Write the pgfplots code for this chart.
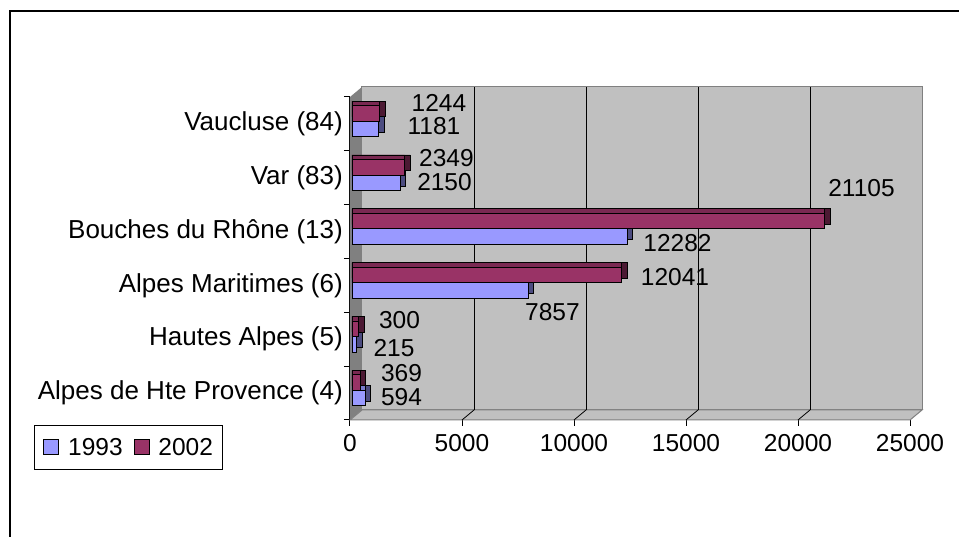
\documentclass[border=0pt]{standalone}
\usepackage{fontspec}
\setmainfont{Liberation Sans}
\usepackage{pgfplots}
\usepackage{pgfplotstable}
\pgfplotsset{compat=1.18}
\definecolor{cA}{HTML}{9999FF}
\definecolor{cAtop}{HTML}{7A7ACC}
\definecolor{cAside}{HTML}{4C4C80}
\definecolor{cB}{HTML}{993366}
\definecolor{cBtop}{HTML}{7A2952}
\definecolor{cBside}{HTML}{4C1933}
\definecolor{wall}{HTML}{C0C0C0}
\definecolor{sidewall}{HTML}{808080}
\pgfplotstableread{
cat y1993 y2002
0 594 369
1 215 300
2 7857 12041
3 12282 21105
4 2150 2349
5 1181 1244
}\datatable
\begin{document}
\begin{tikzpicture}[x=1pt,y=1pt]
\useasboundingbox (0,0) rectangle (959,537);
\fill[white] (0,0) rectangle (959,537);
\draw[line width=2pt] (10,-5) -- (10,526) -- (970,526);
\begin{axis}[
  at={(350pt,117pt)}, anchor=south west,
  scale only axis, width=560pt, height=323pt,
  xmin=0, xmax=25000, ymin=-0.5, ymax=5.5,
  axis lines*=left,
  axis line style={black, line width=1pt},
  tick align=outside,
  major tick length=6pt,
  tick style={black, line width=1pt},
  xtick={0,5000,...,25000},
  scaled x ticks=false,
  /pgf/number format/.cd, 1000 sep={}, assume math mode=true, /pgfplots/.cd,
  xticklabel style={font=\fontsize{24.5}{28}\selectfont, inner sep=0pt, yshift=-8pt},
  ytick={-0.5,0.5,...,5.5},
  yticklabels={},
  extra y ticks={0,1,2,3,4,5},
  extra y tick style={major tick length=0pt},
  extra y tick labels={Alpes de Hte Provence (4), Hautes Alpes (5), Alpes Maritimes (6), Bouches du Rhône (13), Var (83), Vaucluse (84)},
  yticklabel style={font=\fontsize{26}{30}\selectfont, inner sep=0pt, xshift=-7pt},
  clip=false,
  legend columns=2,
  legend image code/.code={\draw[#1, line width=0.8pt] (0pt,-7.5pt) rectangle (15pt,7.5pt);},
  legend style={at={(axis description cs:-0.5643,-0.1548)}, anchor=south west,
    draw=black, line width=0.8pt, font=\fontsize{24.5}{28}\selectfont,
    inner xsep=9pt, inner ysep=13pt, nodes={inner sep=0pt},
    /tikz/every odd column/.append style={column sep=9pt},
    /tikz/every even column/.append style={column sep=11pt}},
]
% walls
\fill[sidewall] (rel axis cs:0,0) -- (rel axis cs:0,1) -- ([shift={(12pt,10pt)}]rel axis cs:0,1) -- ([shift={(12pt,10pt)}]rel axis cs:0,0) -- cycle;
\filldraw[fill=wall, draw=sidewall, line width=1pt] ([shift={(12pt,10pt)}]rel axis cs:0,0) rectangle ([shift={(12pt,10pt)}]rel axis cs:1,1);
\filldraw[fill=wall, draw=sidewall, line width=1pt] (rel axis cs:0,0) -- (rel axis cs:1,0) -- ([shift={(12pt,10pt)}]rel axis cs:1,0) -- ([shift={(12pt,10pt)}]rel axis cs:0,0) -- cycle;
\pgfplotsinvokeforeach{5000,10000,15000,20000}{
  \draw[black, line width=0.8pt] ([shift={(12pt,10pt)}]axis cs:#1,-0.5) -- ([shift={(12pt,10pt)}]axis cs:#1,5.5);
  \draw[black, line width=0.8pt] (axis cs:#1,-0.5) -- ([shift={(12pt,10pt)}]axis cs:#1,-0.5);
}
% 1993 bars
\addplot[xbar, xshift=2pt, bar width=15.5pt, bar shift=-0.5pt, fill=cAside, draw=black, line width=0.8pt, forget plot] table[x expr=\thisrow{y1993}+245, y=cat] {\datatable};
\addplot[xbar, xshift=2pt, bar width=15.5pt, bar shift=-0.5pt, fill=cAtop, draw=black, line width=0.8pt, forget plot] table[x=y1993, y=cat] {\datatable};
\addplot[xbar, xshift=2pt, bar width=15.5pt, bar shift=-5pt, fill=cA, draw=black, line width=0.8pt] table[x=y1993, y=cat] {\datatable};
% 2002 bars
\addplot[xbar, xshift=2pt, bar width=15.5pt, bar shift=15pt, fill=cBside, draw=black, line width=0.8pt, forget plot] table[x expr=\thisrow{y2002}+245, y=cat] {\datatable};
\addplot[xbar, xshift=2pt, bar width=15.5pt, bar shift=15pt, fill=cBtop, draw=black, line width=0.8pt, forget plot] table[x=y2002, y=cat] {\datatable};
\addplot[xbar, xshift=2pt, bar width=15.5pt, bar shift=10.5pt, fill=cB, draw=black, line width=0.8pt] table[x=y2002, y=cat] {\datatable};
\legend{1993,2002}
% data labels
\begin{scope}[every node/.style={font=\fontsize{24.5}{28}\selectfont, inner sep=0pt}]
\node at (axis cs:3973,5.389) {1244};
\node at (axis cs:3750,4.961) {1181};
\node at (axis cs:4308,4.367) {2349};
\node at (axis cs:4219,3.921) {2150};
\node at (axis cs:22835,3.810) {21105};
\node at (axis cs:14621,2.788) {12282};
\node at (axis cs:14509,2.156) {12041};
\node at (axis cs:9040,1.506) {7857};
\node at (axis cs:2210,1.358) {300};
\node at (axis cs:1964,0.8375) {215};
\node at (axis cs:2299,0.372) {369};
\node at (axis cs:2299,-0.070) {594};
\end{scope}
\end{axis}
\end{tikzpicture}
\end{document}
